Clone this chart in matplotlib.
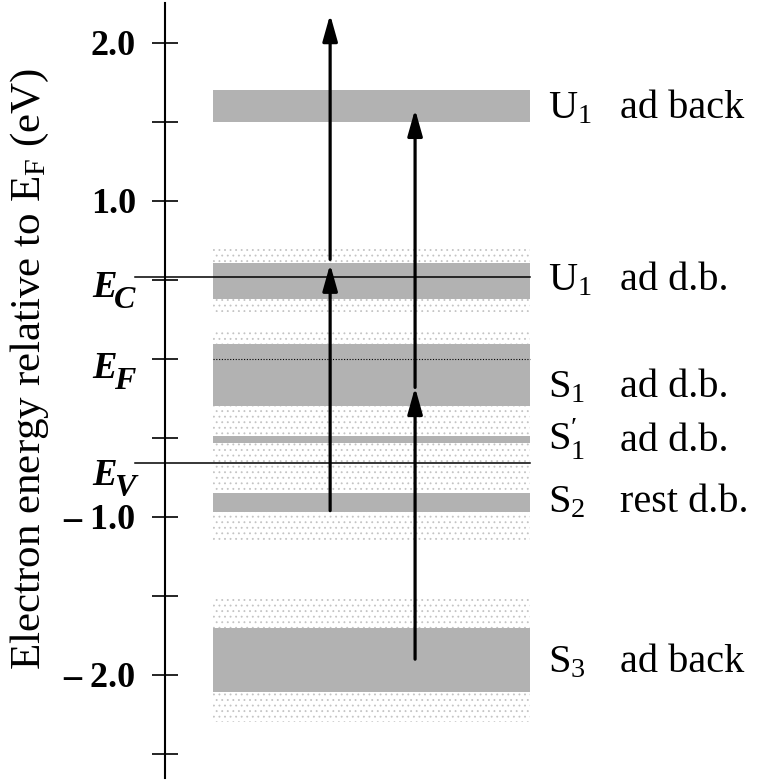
import numpy as np
import matplotlib
matplotlib.use('Agg')
import matplotlib.pyplot as plt

plt.rcParams['font.family'] = 'Liberation Serif'
plt.rcParams['mathtext.fontset'] = 'custom'
plt.rcParams['mathtext.rm'] = 'Liberation Serif'
plt.rcParams['mathtext.it'] = 'Liberation Serif:italic'
plt.rcParams['mathtext.bf'] = 'Liberation Serif:bold'
plt.rcParams['hatch.color'] = '#c4c4c4'
plt.rcParams['hatch.linewidth'] = 0.6

# surface state bands (eV relative to E_F)
band_lo = [1.50, 0.38, -0.30, -0.53, -0.97, -2.11]
band_hi = [1.70, 0.61, 0.095, -0.49, -0.85, -1.70]
# broadened (stippled) regions around the bands
spread_lo = [0.30, -1.16, -2.30]
spread_hi = [0.71, 0.19, -1.51]

state_names = ['U$_1$', 'U$_1$', 'S$_1$', r'S$_1^{\prime}$', 'S$_2$', 'S$_3$']
state_desc = ['ad back', 'ad d.b.', 'ad d.b.', 'ad d.b.', 'rest d.b.', 'ad back']
label_y = [1.525, 0.437, -0.24, -0.58, -0.97, -1.98]

# band edges
E_C = 0.52
E_V = -0.66
edge_subs = ['C', 'F', 'V']
edge_sub_y = [0.323, -0.19, -0.867]

# transitions: x column, start energy, end energy
arrow_x = [0.278, 0.278, 0.421, 0.421]
arrow_from = [-0.96, 0.63, -1.90, -0.18]
arrow_to = [0.60, 2.18, -0.18, 1.58]

yticks = [2.0, 1.5, 1.0, 0.5, 0.0, -0.5, -1.0, -1.5, -2.0, -2.5]
ytick_labels = ['2.0', '', '1.0', '', '', '', '\u2013 1.0', '', '\u2013 2.0', '']

x0, x1 = 0.081, 0.614

fig = plt.figure(figsize=(7.59, 7.82), dpi=100)
ax = fig.add_axes([165/759, 4/782, 594/759, 775/782])
ax.set_xlim(0, 1)
ax.set_ylim(-2.652, 2.253)

for lo, hi in zip(spread_lo, spread_hi):
    ax.fill_between([x0, x1], lo, hi, facecolor='white', edgecolor='#c4c4c4',
                    hatch='...', linewidth=0, zorder=1)
for lo, hi in zip(band_lo, band_hi):
    ax.fill_between([x0, x1], lo, hi, facecolor='#b2b2b2', linewidth=0, zorder=2)

# Fermi level inside S1 band
ax.plot([x0, x1], [0, 0], color='black', lw=0.8, ls=(0, (1, 1.5)), zorder=3)

# conduction and valence band edges
for e in [E_C, E_V]:
    ax.plot([-0.051, x1], [e, e], color='black', lw=1.1, zorder=3, clip_on=False)

for x, a, b in zip(arrow_x, arrow_from, arrow_to):
    ax.annotate('', xy=(x, b), xytext=(x, a),
                arrowprops=dict(arrowstyle='-|>,head_length=1.6,head_width=0.45',
                                color='black', lw=2.3, shrinkA=0, shrinkB=0),
                zorder=4)

for name, desc, y in zip(state_names, state_desc, label_y):
    ax.text(0.645, y, name, fontsize=29, va='baseline', ha='left')
    ax.text(0.766, y, desc, fontsize=29, va='baseline', ha='left')

# E_C, E_F, E_V: big subscript, so built from two texts
for sub, y in zip(edge_subs, edge_sub_y):
    t = ax.text(-0.05, y, sub, fontsize=23, fontweight='bold', style='italic',
                va='baseline', ha='right', clip_on=False)
    ax.annotate('E', xy=(0, 0), xycoords=t, xytext=(2, 7.5), textcoords='offset points',
                fontsize=26.5, fontweight='bold', style='italic', ha='right', va='bottom')

for s in ['top', 'right', 'bottom']:
    ax.spines[s].set_visible(False)
ax.spines['left'].set_linewidth(1.5)
ax.set_xticks([])
ax.set_yticks(yticks)
ax.set_yticklabels(ytick_labels, fontsize=26, fontweight='bold')
ax.tick_params(axis='y', direction='inout', length=19, width=1.2, pad=11.5)

fig.text(30/759, 0.528, 'Electron energy relative to E$_\\mathrm{F}$ (eV)',
         fontsize=31, rotation=90, ha='center', va='center')

plt.savefig('out.png', dpi=100)
